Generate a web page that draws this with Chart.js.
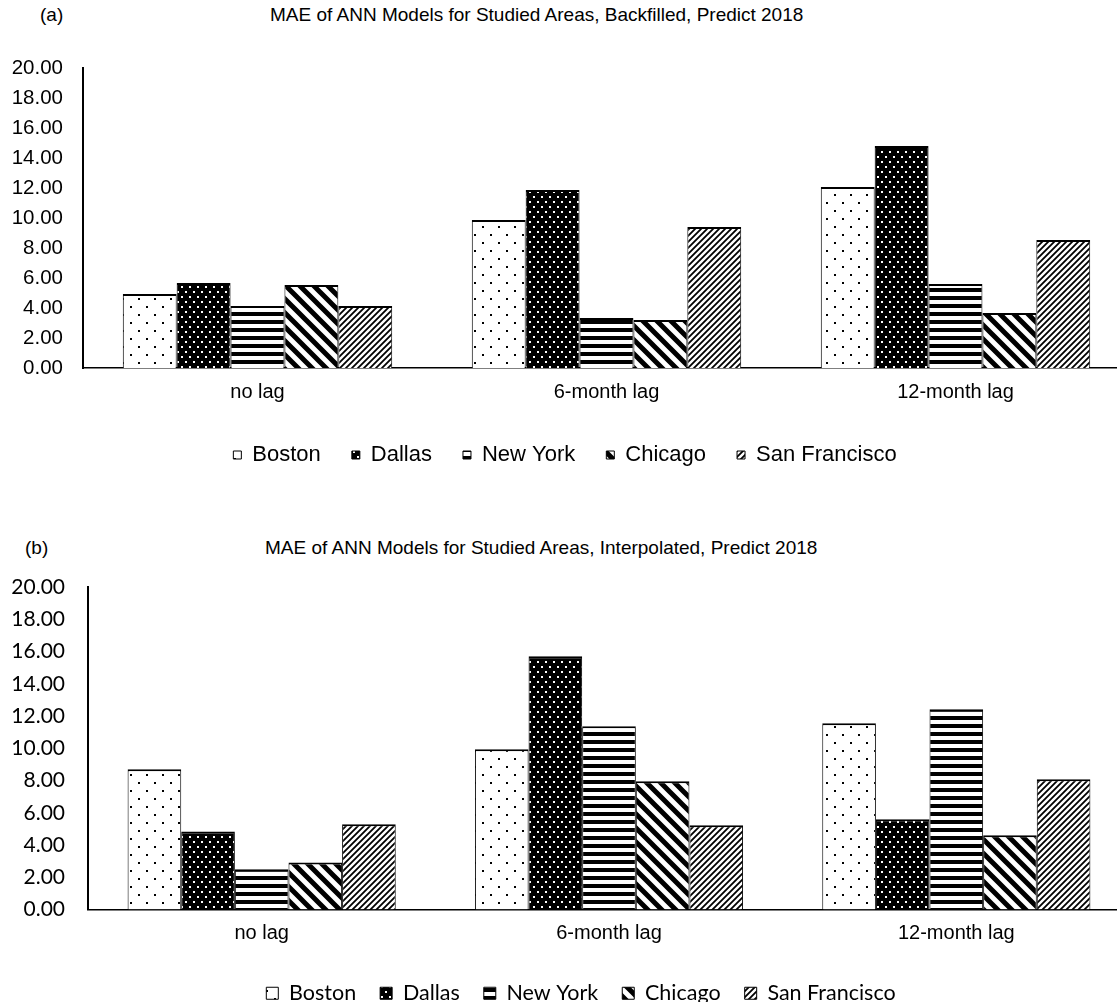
<!DOCTYPE html>
<html>
<head>
<meta charset="utf-8">
<script src="https://cdn.jsdelivr.net/npm/chart.js@4.4.1/dist/chart.umd.min.js"></script>
<style>
    body { margin: 0; width: 1117px; height: 1002px; overflow: hidden; background: #fff; position: relative; }
    .lbl { position: absolute; font-family: "Liberation Sans", Arial, sans-serif; font-size: 19px; color: #000; white-space: nowrap; }
    .box { position: absolute; left: 0; width: 1140px; }
</style>
</head>
<body>
<div class="lbl" style="left:40px; top:4px;">(a)</div>
<div class="lbl" style="left:270px; top:4px;">MAE of ANN Models for Studied Areas, Backfilled, Predict 2018</div>
<div class="box" style="top:0; height:481px;"><canvas id="chartA"></canvas></div>

<div class="lbl" style="left:25px; top:537px;">(b)</div>
<div class="lbl" style="left:265px; top:537px;">MAE of ANN Models for Studied Areas, Interpolated, Predict 2018</div>
<div class="box" style="top:500px; height:516px;"><canvas id="chartB"></canvas></div>

<script>
// Categories and series
const categories = ['no lag', '6-month lag', '12-month lag'];
const cities = ['Boston', 'Dallas', 'New York', 'Chicago', 'San Francisco'];

// (a) Backfilled
const backfilledBoston = [4.93, 9.87, 12.07];
const backfilledDallas = [5.67, 11.87, 14.80];
const backfilledNewYork = [4.13, 3.33, 5.60];
const backfilledChicago = [5.53, 3.20, 3.67];
const backfilledSanFrancisco = [4.13, 9.40, 8.53];

// (b) Interpolated
const interpBoston = [8.70, 9.94, 11.55];
const interpDallas = [4.84, 15.71, 5.59];
const interpNewYork = [2.50, 11.37, 12.42];
const interpChicago = [2.92, 7.95, 4.60];
const interpSanFrancisco = [5.28, 5.22, 8.07];

// Pattern fills, one per city
function makePattern(kind) {
    const c = document.createElement('canvas');
    const x = c.getContext('2d');
    if (kind === 'dots') {
        c.width = 16; c.height = 16;
        x.fillStyle = '#fff'; x.fillRect(0, 0, 16, 16);
        x.fillStyle = '#000';
        x.fillRect(2, 2, 2, 2);
        x.fillRect(10, 10, 2, 2);
    } else if (kind === 'darkdots') {
        c.width = 8; c.height = 10;
        x.fillStyle = '#000'; x.fillRect(0, 0, 8, 10);
        x.fillStyle = '#fff';
        x.fillRect(1, 1, 2, 2);
        x.fillRect(5, 6, 2, 2);
    } else if (kind === 'hstripes') {
        c.width = 8; c.height = 8;
        x.fillStyle = '#fff'; x.fillRect(0, 0, 8, 8);
        x.fillStyle = '#000'; x.fillRect(0, 0, 8, 4);
    } else if (kind === 'wdiag') {
        const s = 14;
        c.width = s; c.height = s;
        x.fillStyle = '#fff'; x.fillRect(0, 0, s, s);
        x.strokeStyle = '#000'; x.lineWidth = 5;
        x.beginPath();
        x.moveTo(-s, 0); x.lineTo(s, 2 * s);
        x.moveTo(0, 0); x.lineTo(s, s);
        x.moveTo(0, -s); x.lineTo(2 * s, s);
        x.stroke();
    } else if (kind === 'udiag') {
        const s = 6;
        c.width = s; c.height = s;
        x.fillStyle = '#fff'; x.fillRect(0, 0, s, s);
        x.strokeStyle = '#000'; x.lineWidth = 1.8;
        x.beginPath();
        x.moveTo(-s, s); x.lineTo(s, -s);
        x.moveTo(0, s); x.lineTo(s, 0);
        x.moveTo(0, 2 * s); x.lineTo(2 * s, 0);
        x.stroke();
    }
    return x.createPattern(c, 'repeat');
}

const fills = [
    makePattern('dots'),
    makePattern('darkdots'),
    makePattern('hstripes'),
    makePattern('wdiag'),
    makePattern('udiag')
];

Chart.defaults.color = '#000';

// Nudge the legend sideways (the original legend is not centred on the canvas)
const legendShift = {
    id: 'legendShift',
    afterLayout: function(chart, args, options) {
        if (chart.legend && options.dx) {
            chart.legend.left += options.dx;
            chart.legend.right += options.dx;
        }
    }
};

function buildDatasets(seriesList) {
    return seriesList.map(function(values, i) {
        return {
            label: cities[i],
            data: values,
            backgroundColor: fills[i],
            borderColor: '#000',
            borderWidth: { top: 2, left: 1, right: 1, bottom: 0 },
            borderSkipped: false,
            barPercentage: 1.0,
            categoryPercentage: 0.772
        };
    });
}

function makeChart(id, seriesList, opts) {
    return new Chart(document.getElementById(id), {
        type: 'bar',
        data: {
            labels: categories,
            datasets: buildDatasets(seriesList)
        },
        plugins: [legendShift],
        options: {
            responsive: true,
            maintainAspectRatio: false,
            animation: false,
            layout: {
                padding: { top: opts.top, left: 0, right: 10, bottom: opts.bottom }
            },
            plugins: {
                tooltip: { enabled: false },
                legendShift: { dx: opts.legendDx },
                legend: {
                    position: 'bottom',
                    labels: {
                        font: opts.legendFont,
                        boxWidth: opts.box,
                        boxHeight: opts.box,
                        padding: opts.legendPad,
                        color: '#000'
                    }
                }
            },
            scales: {
                x: {
                    grid: { display: false, drawTicks: false },
                    border: { display: true, color: '#000', width: 1.5 },
                    ticks: {
                        font: { family: '"Liberation Sans", Arial, sans-serif', size: 20 },
                        padding: 12,
                        color: '#000'
                    },
                    afterFit: function(scale) { scale.height = opts.xHeight; }
                },
                y: {
                    min: 0,
                    max: 20,
                    grid: { display: false, drawTicks: false },
                    border: { display: true, color: '#000', width: 2 },
                    ticks: {
                        stepSize: 2,
                        font: opts.tickFont,
                        padding: opts.tickPad,
                        color: '#000',
                        callback: function(v) { return v.toFixed(2); }
                    },
                    afterFit: function(scale) { scale.width = opts.axisLeft; }
                }
            }
        }
    });
}

makeChart('chartA',
    [backfilledBoston, backfilledDallas, backfilledNewYork, backfilledChicago, backfilledSanFrancisco],
    {
        top: 68, bottom: 5, axisLeft: 83, xHeight: 45, box: 8, legendPad: 31, legendDx: 0, tickPad: 20,
        tickFont: { family: '"Liberation Sans", Arial, sans-serif', size: 20.5 },
        legendFont: { family: '"Liberation Sans", Arial, sans-serif', size: 22 }
    });

makeChart('chartB',
    [interpBoston, interpDallas, interpNewYork, interpChicago, interpSanFrancisco],
    {
        top: 87, bottom: 2, axisLeft: 88, xHeight: 49, box: 12, legendPad: 24, legendDx: 16, tickPad: 23,
        tickFont: { family: 'Lato, sans-serif', size: 21 },
        legendFont: { family: 'Lato, sans-serif', size: 21.5 }
    });
</script>
</body>
</html>
